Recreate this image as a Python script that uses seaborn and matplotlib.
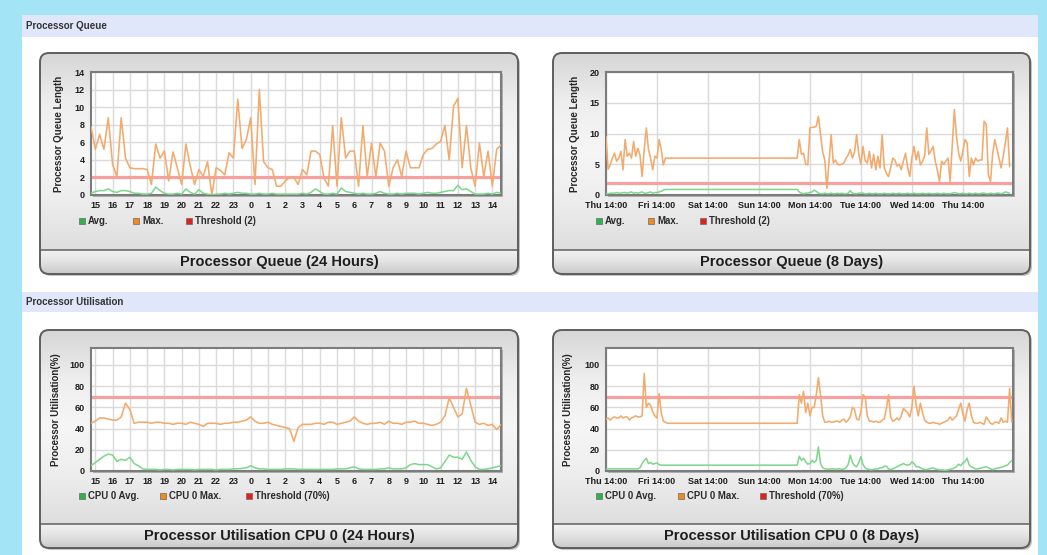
import numpy as np
import seaborn as sns
import matplotlib.pyplot as plt
from matplotlib.patches import Rectangle, FancyBboxPatch
from matplotlib.colors import LinearSegmentedColormap

sns.set_theme(style="white")
plt.rcParams["font.family"] = ["Liberation Sans", "DejaVu Sans"]

# %% data
hour_labels = ["15", "16", "17", "18", "19", "20", "21", "22", "23", "0", "1", "2",
               "3", "4", "5", "6", "7", "8", "9", "10", "11", "12", "13", "14"]
day_labels = ["Thu 14:00", "Fri 14:00", "Sat 14:00", "Sun 14:00",
              "Mon 14:00", "Tue 14:00", "Wed 14:00", "Thu 14:00"]

# 24 hours, one sample every 15 minutes (first sample 14:45)
queue_24h_avg = [0.2, 0.4, 0.5, 0.5, 0.7, 0.4, 0.3, 0.5, 0.5, 0.4,
                 0.2, 0.2, 0.1, 0.1, 0.2, 0.9, 0.5, 0.2, 0.1, 0.1,
                 0.2, 0.1, 0.7, 0.3, 0.1, 0.6, 0.2, 0.1, 0.0, 0.1,
                 0.1, 0.2, 0.1, 0.2, 0.3, 0.2, 0.2, 0.1, 0.1, 0.2,
                 0.1, 0.1, 0.2, 0.1, 0.1, 0.1, 0.1, 0.1, 0.1, 0.2,
                 0.1, 0.3, 0.7, 0.4, 0.1, 0.1, 0.2, 0.1, 0.8, 0.4,
                 0.3, 0.2, 0.1, 0.2, 0.1, 0.1, 0.2, 0.4, 0.2, 0.1,
                 0.1, 0.2, 0.1, 0.2, 0.2, 0.2, 0.1, 0.2, 0.3, 0.2,
                 0.2, 0.3, 0.4, 0.5, 0.5, 1.1, 0.6, 0.7, 0.4, 0.1,
                 0.1, 0.1, 0.2, 0.1, 0.3, 0.2]
queue_24h_max = [7.8, 5.2, 6.9, 5.2, 8.8, 3.5, 2.1, 8.8, 4.2, 3.1,
                 3.0, 3.0, 3.0, 2.9, 1.2, 5.8, 4.2, 5.0, 1.6, 4.9,
                 3.1, 1.2, 5.8, 3.3, 1.2, 2.9, 2.1, 3.8, 0.0, 3.1,
                 2.8, 2.3, 4.8, 4.2, 10.9, 5.3, 6.3, 8.8, 1.2, 12.0,
                 3.8, 3.1, 2.9, 1.0, 1.0, 1.6, 2.0, 2.0, 1.2, 2.9,
                 2.3, 5.0, 5.0, 4.6, 1.9, 1.0, 7.9, 1.0, 8.8, 4.2,
                 5.0, 5.0, 1.0, 7.9, 2.1, 5.9, 2.1, 5.9, 5.0, 1.0,
                 3.1, 4.0, 2.1, 5.0, 3.1, 3.1, 3.1, 4.6, 5.2, 5.3,
                 5.8, 6.1, 7.9, 4.0, 10.1, 11.0, 3.1, 7.9, 3.1, 1.0,
                 5.9, 2.1, 5.0, 1.0, 5.2, 5.7]
util_24h_avg = [5, 8, 11, 14, 16, 15, 9, 11, 10, 13,
                7, 5, 2, 1.5, 1.5, 1.5, 1, 1.5, 1.5, 1,
                1.5, 1.5, 1.5, 1.5, 1, 1.5, 1.5, 1.5, 1.5, 1,
                1.5, 1.5, 1.5, 2, 2, 2.5, 3, 5, 3, 2,
                2, 1.5, 1.5, 1.5, 1.5, 2, 2, 2, 1.5, 1.5,
                1.5, 1.5, 1.5, 1.5, 1.5, 1.5, 1.5, 2, 2, 2,
                3, 4, 2, 1.5, 1.5, 1.5, 1.5, 2, 2, 3,
                2, 2, 2, 3, 6, 7, 6, 6, 6, 4,
                2, 3, 9, 15, 13, 13, 11, 18, 10, 4,
                1.5, 1.5, 2, 3, 4, 5]
util_24h_max = [45, 47, 50, 50, 49, 48, 48, 51, 64, 58,
                45, 46, 46, 46, 45, 46, 46, 45, 45, 44,
                45, 45, 44, 46, 45, 44, 42, 45, 45, 45,
                44, 45, 45, 46, 46, 47, 48, 51, 47, 45,
                45, 46, 44, 43, 42, 41, 40, 28, 41, 44,
                44, 44, 45, 45, 44, 46, 46, 44, 45, 46,
                47, 51, 47, 45, 44, 45, 45, 46, 44, 47,
                45, 45, 44, 46, 46, 47, 45, 45, 44, 43,
                44, 46, 52, 69, 60, 51, 54, 78, 62, 46,
                44, 45, 43, 44, 39, 44]

# 8 days, hourly samples from Thu 14:00; no samples between the two blocks
queue_8d_start_after_gap = 90
queue_8d_avg_before = [0.2, 0.2, 0.3, 0.3, 0.3, 0.4, 0.3, 0.3, 0.4, 0.4,
                       0.3, 0.4, 0.5, 0.3, 0.4, 0.3, 0.4, 0.5, 0.3, 0.3,
                       0.4, 0.5, 0.3, 0.4, 0.4, 0.5, 0.6, 0.8, 0.9]
queue_8d_avg_after = [0.9, 0.5, 0.3, 0.2, 0.3, 0.3, 0.4, 0.5, 0.8, 0.6,
                      0.3, 0.2, 0.2, 0.3, 0.2, 0.2, 0.3, 0.2, 0.2, 0.3,
                      0.2, 0.3, 0.2, 0.2, 0.3, 0.7, 0.3, 0.2, 0.2, 0.3,
                      0.3, 0.3, 0.2, 0.2, 0.3, 0.2, 0.2, 0.3, 0.2, 0.2,
                      0.2, 0.3, 0.2, 0.2, 0.2, 0.3, 0.2, 0.2, 0.3, 0.2,
                      0.2, 0.2, 0.3, 0.2, 0.2, 0.3, 0.2, 0.2, 0.2, 0.3,
                      0.2, 0.2, 0.3, 0.2, 0.2, 0.2, 0.3, 0.2, 0.2, 0.3,
                      0.2, 0.2, 0.2, 0.3, 0.4, 0.3, 0.2, 0.2, 0.3, 0.2,
                      0.2, 0.3, 0.2, 0.2, 0.3, 0.2, 0.2, 0.3, 0.3, 0.2,
                      0.2, 0.3, 0.2, 0.2, 0.3, 0.3, 0.2, 0.3, 0.5, 0.4,
                      0.3]
queue_8d_max_before = [9.5, 4.2, 4.9, 6.0, 6.8, 5.5, 6.0, 7.1, 4.1, 9.0,
                       6.3, 6.8, 6.0, 8.7, 6.3, 7.6, 6.5, 3.0, 7.4, 10.9,
                       7.4, 6.0, 4.1, 6.3, 6.0, 9.0, 7.4, 4.9, 6.0]
queue_8d_max_after = [6.0, 9.0, 6.6, 6.8, 5.0, 4.9, 10.9, 11.0, 11.0, 11.2,
                      12.8, 9.8, 7.0, 5.7, 1.1, 5.5, 9.8, 5.2, 5.7, 5.0,
                      4.9, 5.0, 5.2, 6.0, 6.5, 7.4, 6.0, 7.0, 9.8, 6.6,
                      5.0, 7.9, 5.6, 5.2, 7.1, 4.4, 6.6, 4.1, 6.3, 4.4,
                      9.8, 4.4, 3.5, 3.0, 4.4, 6.0, 5.7, 4.7, 5.0, 4.1,
                      5.5, 6.8, 4.5, 3.0, 6.0, 7.9, 5.7, 7.1, 4.9, 5.5,
                      6.3, 10.9, 6.6, 7.2, 7.9, 5.5, 4.0, 2.2, 5.5, 5.0,
                      5.5, 6.0, 2.2, 8.2, 13.9, 9.5, 6.8, 5.5, 7.1, 9.0,
                      8.5, 3.0, 6.0, 4.9, 6.0, 5.5, 5.7, 5.7, 12.0, 11.5,
                      3.3, 2.2, 6.6, 9.0, 7.6, 6.0, 4.4, 6.3, 8.5, 10.9,
                      4.6]

util_8d_start_after_gap = 90
util_8d_avg_before = [2, 2, 2, 2, 2, 2, 2, 2, 2, 2,
                      2, 2, 2, 2, 2, 2, 3, 7, 10, 12,
                      7, 8, 6.5, 7, 7.7, 6, 5.5, 5.5, 5.5, 5.5]
util_8d_avg_after = [5.5, 14, 10, 12, 8.7, 6.5, 7, 10, 8, 10,
                     22.6, 7, 3, 2, 2, 1.5, 2, 2, 1.5, 2,
                     2, 1.5, 2, 3, 6, 15, 8, 5, 4, 8,
                     13.5, 6, 3, 2, 1.5, 1, 1.5, 2, 2, 3,
                     3, 4.5, 4.5, 2, 1.5, 2, 3, 4, 5, 6,
                     7, 6, 5.5, 6, 8.7, 7, 4, 4, 3, 2,
                     1.5, 1.3, 2, 2.5, 3, 2, 1.5, 1, 1, 0.8,
                     0.6, 1, 1.5, 2, 3, 4, 6.5, 5, 7.7, 9,
                     12, 5.5, 4, 3, 2, 2, 2.5, 3, 3.5, 4,
                     3, 2, 1.3, 2, 2.5, 3, 3.5, 4, 5, 5.5,
                     8, 10]
util_8d_max_before = [49, 50, 48, 50, 51, 50, 50, 52, 50, 51,
                      51, 48, 50, 51, 52, 51, 51, 52, 92, 60,
                      64, 62, 56, 52, 50, 73, 55, 47, 46, 45]
util_8d_max_after = [45, 72, 64, 75, 55, 64, 52, 60, 60, 72,
                     88, 72, 52, 46, 46, 47, 46, 46, 47, 47,
                     46, 48, 49, 46, 48, 51, 60, 58, 49, 48,
                     56, 72, 70, 52, 47, 47, 46, 47, 46, 46,
                     48, 49, 59, 72, 51, 47, 48, 50, 48, 52,
                     59, 57, 55, 51, 60, 80, 62, 52, 64, 55,
                     48, 46, 45, 45, 46, 45, 45, 44, 45, 46,
                     47, 48, 51, 48, 50, 52, 58, 64, 54, 47,
                     58, 64, 52, 46, 45, 45, 46, 45, 44, 51,
                     48, 45, 44, 46, 46, 45, 50, 46, 47, 46,
                     78, 46]

queue_threshold = 2
util_threshold = 70

# %% colours
C_AVG = "#7dd68a"
C_MAX = "#f3aa6c"
C_THR = "#f7a0a0"
LEG_AVG, LEG_MAX, LEG_THR = "#2bb44a", "#f08a1c", "#e3211c"

W, H = 1047, 555
fig = plt.figure(figsize=(W / 100, H / 100), dpi=100)

bg = fig.add_axes([0, 0, 1, 1])
bg.set_xlim(0, W)
bg.set_ylim(H, 0)
bg.axis("off")


def gradient(x0, y0, x1, y1, stops, clip=None, z=1):
    cmap = LinearSegmentedColormap.from_list("g", stops)
    im = bg.imshow(np.linspace(0, 1, 256).reshape(-1, 1), cmap=cmap,
                   extent=(x0, x1, y1, y0), aspect="auto", zorder=z,
                   interpolation="bilinear")
    if clip is not None:
        im.set_clip_path(clip)
    return im


# page background
bg.add_patch(Rectangle((0, 0), W, H, fc="#a3e5f6", ec="none", zorder=0))
bg.add_patch(Rectangle((22, 15), 1016, H - 15, fc="white", ec="none", zorder=0.5))
for y0, h, txt in [(15, 22, "Processor Queue"), (292, 20, "Processor Utilisation")]:
    bg.add_patch(Rectangle((22, y0), 1016, h, fc="#e0e7fb", ec="none", zorder=0.6))
    bg.text(26, y0 + h / 2, txt, fontsize=7.0, weight="bold", color="#333333",
            va="center", ha="left", zorder=0.7)

panels = [
    dict(box=(40, 53, 518, 274), plot=(91, 72, 501, 195), ylab_x=64,
         title="Processor Queue (24 Hours)", leg_y=221, leg_x=(82, 136, 189),
         labels=("Avg.", "Max.", "Threshold (2)")),
    dict(box=(553, 53, 1030, 274), plot=(606, 72, 1013, 195), ylab_x=580,
         title="Processor Queue (8 Days)", leg_y=221, leg_x=(599, 651, 703),
         labels=("Avg.", "Max.", "Threshold (2)")),
    dict(box=(40, 330, 518, 548), plot=(91, 348, 501, 471), ylab_x=61,
         title="Processor Utilisation CPU 0 (24 Hours)", leg_y=496, leg_x=(82, 163, 249),
         labels=("CPU 0 Avg.", "CPU 0 Max.", "Threshold (70%)")),
    dict(box=(553, 330, 1030, 548), plot=(606, 348, 1013, 471), ylab_x=573,
         title="Processor Utilisation CPU 0 (8 Days)", leg_y=496, leg_x=(599, 681, 763),
         labels=("CPU 0 Avg.", "CPU 0 Max.", "Threshold (70%)")),
]

# panel frames, title bars and legends
for p in panels:
    x0, y0, x1, y1 = p["box"]
    bg.add_patch(FancyBboxPatch((x0 + 2, y0 + 2), x1 - x0, y1 - y0,
                                boxstyle="round,pad=0,rounding_size=9",
                                fc="#c4c4c4", ec="none", zorder=1))
    frame = FancyBboxPatch((x0, y0), x1 - x0, y1 - y0,
                           boxstyle="round,pad=0,rounding_size=9",
                           fc="#e8e8e8", ec="none", zorder=1.1)
    bg.add_patch(frame)
    gradient(x0, y0, x1, y1 - 24, ["#d6d6d6", "#eeeeee", "#f6f6f6", "#ededed", "#dedede"],
             clip=frame, z=1.2)
    gradient(x0, y1 - 24, x1, y1, ["#f2f2f2", "#e2e2e2", "#c9c9c9"], clip=frame, z=1.2)
    bg.plot([x0, x1], [y1 - 24, y1 - 24], color="#6a6a6a", lw=1.2, zorder=1.3)
    bg.add_patch(FancyBboxPatch((x0, y0), x1 - x0, y1 - y0,
                                boxstyle="round,pad=0,rounding_size=9",
                                fc="none", ec="#5e5e5e", lw=1.4, zorder=1.4))
    bg.text((x0 + x1) / 2, y1 - 12, p["title"], fontsize=10.5, weight="bold",
            color="#1e1e1e", ha="center", va="center", zorder=1.5)

    px0, py0, px1, py1 = p["plot"]
    bg.add_patch(Rectangle((px0 + 1.5, py0 + 1.5), px1 - px0, py1 - py0,
                           fc="#b0b0b0", ec="none", zorder=1.3))

    for lx, col, lab in zip(p["leg_x"], (LEG_AVG, LEG_MAX, LEG_THR), p["labels"]):
        bg.add_patch(Rectangle((lx - 3, p["leg_y"] - 3), 6, 6, fc=col, ec="#6a6a6a",
                               lw=0.5, zorder=1.5))
        bg.text(lx + 6, p["leg_y"], lab, fontsize=6.9, weight="bold", color="#2a2a2a",
                ha="left", va="center", zorder=1.5)

bg.set_xlim(0, W)
bg.set_ylim(H, 0)


def plot_axes(p):
    px0, py0, px1, py1 = p["plot"]
    ax = fig.add_axes([px0 / W, 1 - py1 / H, (px1 - px0) / W, (py1 - py0) / H])
    ax.set_facecolor("white")
    for s in ax.spines.values():
        s.set_visible(True)
        s.set_color("#7c7c7c")
        s.set_linewidth(1.5)
    ax.grid(True, color="#dadada", lw=1.0)
    ax.tick_params(axis="both", direction="out", length=3, width=1.6, color="#333333",
                   labelsize=6.5, pad=1.5, labelcolor="#1e1e1e")
    ax.yaxis.set_label_coords((p["ylab_x"] - px0) / (px1 - px0), 0.5)
    return ax


def draw(ax, x, avg, mx, thr):
    ax.axhline(thr, color=C_THR, lw=2.3, zorder=2)
    sns.lineplot(x=x, y=mx, ax=ax, color=C_MAX, lw=1.15, estimator=None, zorder=3)
    sns.lineplot(x=x, y=avg, ax=ax, color=C_AVG, lw=1.1, estimator=None, zorder=4)


t24 = -0.25 + 0.25 * np.arange(len(queue_24h_max))
tq8 = np.concatenate([np.arange(len(queue_8d_max_before)),
                      queue_8d_start_after_gap + np.arange(len(queue_8d_max_after))])
tu8 = np.concatenate([np.arange(len(util_8d_max_before)),
                      util_8d_start_after_gap + np.arange(len(util_8d_max_after))])

# 1: queue 24 h
ax1 = plot_axes(panels[0])
draw(ax1, t24, queue_24h_avg, queue_24h_max, queue_threshold)
ax1.set_ylim(0, 14)
ax1.set_yticks(range(0, 15, 2))
ax1.set_ylabel("Processor Queue Length", fontsize=7, weight="bold")

# 2: queue 8 days
ax2 = plot_axes(panels[1])
draw(ax2, tq8, queue_8d_avg_before + queue_8d_avg_after,
     queue_8d_max_before + queue_8d_max_after, queue_threshold)
ax2.set_ylim(0, 20)
ax2.set_yticks(range(0, 21, 5))
ax2.set_ylabel("Processor Queue Length", fontsize=7, weight="bold")

# 3: utilisation 24 h
ax3 = plot_axes(panels[2])
draw(ax3, t24, util_24h_avg, util_24h_max, util_threshold)
ax3.set_ylim(0, 116)
ax3.set_yticks(range(0, 101, 20))
ax3.set_ylabel("Processor Utilisation(%)", fontsize=7, weight="bold")

# 4: utilisation 8 days
ax4 = plot_axes(panels[3])
draw(ax4, tu8, util_8d_avg_before + util_8d_avg_after,
     util_8d_max_before + util_8d_max_after, util_threshold)
ax4.set_ylim(0, 116)
ax4.set_yticks(range(0, 101, 20))
ax4.set_ylabel("Processor Utilisation(%)", fontsize=7, weight="bold")

for ax in (ax1, ax3):
    ax.set_xlim(-0.25, 23.5)
    ax.set_xticks(range(24))
    ax.set_xticklabels(hour_labels)
for ax in (ax2, ax4):
    ax.set_xlim(0, 191.6)
    ax.set_xticks(range(0, 169, 24))
    ax.set_xticklabels(day_labels)

for ax in (ax1, ax2, ax3, ax4):
    ax.set_xlabel("")
    for lbl in ax.get_xticklabels() + ax.get_yticklabels():
        lbl.set_fontweight("bold")

fig.savefig("out.png", dpi=100)
